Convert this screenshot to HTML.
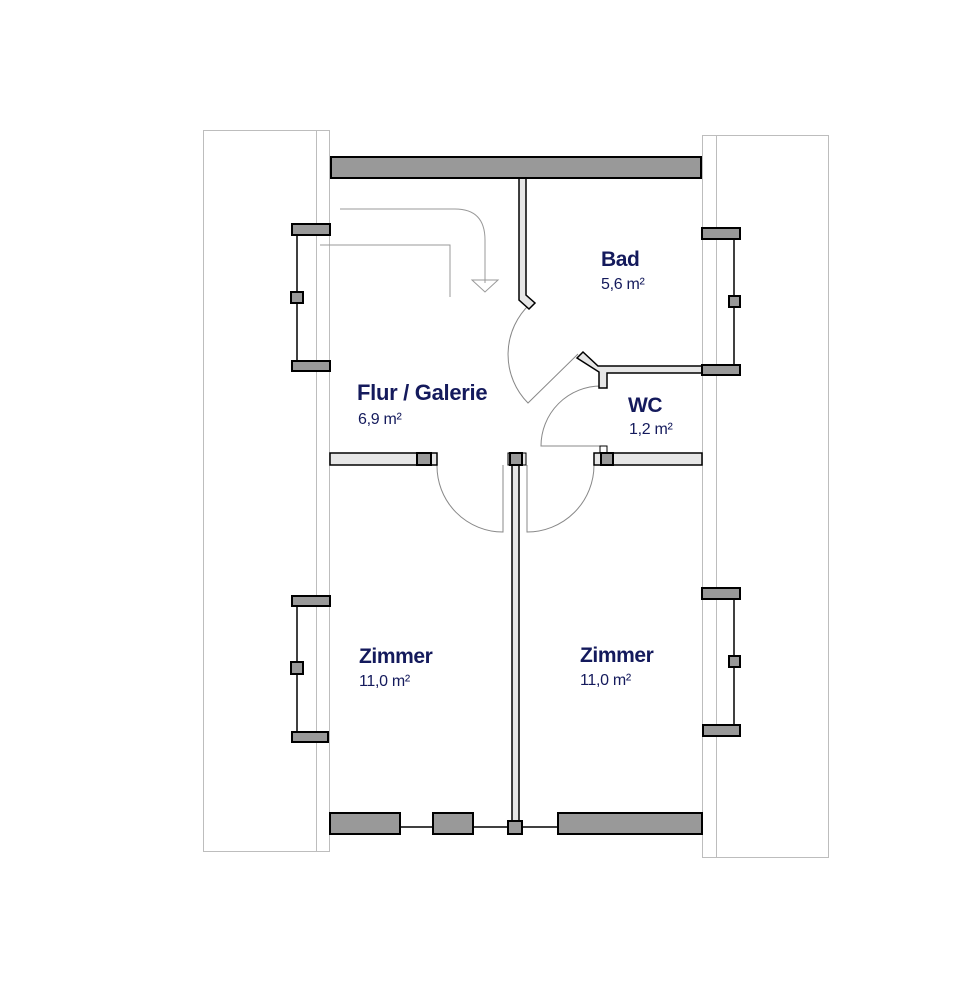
<!DOCTYPE html>
<html><head><meta charset="utf-8"><style>
html,body{margin:0;padding:0;background:#fff;}
svg{display:block;}
text{font-family:"Liberation Sans",Arial,sans-serif;fill:#141a5c;}
.b{font-weight:bold;font-size:21px;letter-spacing:-0.4px;}
.s{font-size:16px;letter-spacing:-0.3px;}
</style></head><body>
<svg width="964" height="1000" viewBox="0 0 964 1000" xmlns="http://www.w3.org/2000/svg">
<g fill="none" stroke="#bdbdbd" stroke-width="1">
<rect x="203.5" y="130.5" width="126" height="721"/>
<line x1="316.5" y1="130" x2="316.5" y2="851"/>
<rect x="702.5" y="135.5" width="126" height="722"/>
<line x1="716.5" y1="135" x2="716.5" y2="857"/>
</g>
<g fill="none" stroke="#999" stroke-width="1">
<path d="M340 209 H455 Q485 209 485 240 V283"/>
<path d="M320 245 H450 V297"/>
<path d="M472 280 L498 280 L485 292 Z"/>
</g>
<g fill="none" stroke="#888" stroke-width="1">
<path d="M530 304 A69 69 0 0 0 528 403 L578 354"/>
<path d="M601 386 A60 60 0 0 0 541 446 H600"/>
<path d="M437 465 A66 66 0 0 0 503 532 V465"/>
<path d="M594 465 A67 67 0 0 1 527 532 V465"/>
</g>
<g stroke="#000" stroke-width="1.5">
<path d="M519 178 V300 L529 309 L535 303 L526 295 V178 Z" fill="#e6e6e6"/>
<path d="M577 358 L583 352 L598 366 H702 V373 H607 V388 H599 V372 Z" fill="#e6e6e6"/>
<rect x="330" y="453" width="107" height="12" fill="#e6e6e6"/>
<rect x="594" y="453" width="108" height="12" fill="#e6e6e6"/>
<rect x="600" y="446" width="7" height="7" fill="#fff" stroke-width="1"/>
<rect x="508" y="453" width="18" height="12" fill="#e6e6e6" stroke-width="1"/>
<rect x="512" y="465" width="7" height="357" fill="#e6e6e6"/>
<line x1="297" y1="235" x2="297" y2="361"/>
<line x1="297" y1="606" x2="297" y2="732"/>
<line x1="734" y1="239" x2="734" y2="365"/>
<line x1="734" y1="599" x2="734" y2="725"/>
<line x1="400" y1="827" x2="558" y2="827"/>
</g>
<g fill="#999" stroke="#000" stroke-width="2">
<rect x="331" y="157" width="370" height="21"/>
<rect x="292" y="224" width="38" height="11"/>
<rect x="291" y="292" width="12" height="11"/>
<rect x="292" y="361" width="38" height="10"/>
<rect x="292" y="596" width="38" height="10"/>
<rect x="291" y="662" width="12" height="12"/>
<rect x="292" y="732" width="36" height="10"/>
<rect x="702" y="228" width="38" height="11"/>
<rect x="729" y="296" width="11" height="11"/>
<rect x="702" y="365" width="38" height="10"/>
<rect x="702" y="588" width="38" height="11"/>
<rect x="729" y="656" width="11" height="11"/>
<rect x="703" y="725" width="37" height="11"/>
<rect x="330" y="813" width="70" height="21"/>
<rect x="433" y="813" width="40" height="21"/>
<rect x="558" y="813" width="144" height="21"/>
<rect x="508" y="821" width="14" height="13"/>
<rect x="417" y="453" width="14" height="12"/>
<rect x="510" y="453" width="12" height="12"/>
<rect x="601" y="453" width="12" height="12"/>
</g>
<text class="b" x="357" y="400" style="font-size:22px;letter-spacing:-0.3px">Flur / Galerie</text>
<text class="s" x="358" y="424">6,9 m²</text>
<text class="b" x="601" y="266">Bad</text>
<text class="s" x="601" y="289">5,6 m²</text>
<text class="b" x="628" y="412">WC</text>
<text class="s" x="629" y="434">1,2 m²</text>
<text class="b" x="359" y="663">Zimmer</text>
<text class="s" x="359" y="686">11,0 m²</text>
<text class="b" x="580" y="662">Zimmer</text>
<text class="s" x="580" y="685">11,0 m²</text>
</svg>
</body></html>
